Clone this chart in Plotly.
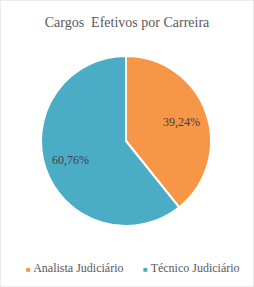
import math
import plotly.graph_objects as go

categories = ["Analista Judiciário", "Técnico Judiciário"]
values = [39.24, 60.76]
colors = ["#F79646", "#4BACC6"]

W, H = 254, 287
# pie geometry (pixels)
cx, cy, R = 126, 141, 85
fig = go.Figure(go.Pie(
    labels=categories,
    values=values,
    sort=False,
    direction="clockwise",
    rotation=0,
    marker=dict(colors=colors, line=dict(color="white", width=2)),
    textinfo="none",
    domain=dict(x=[(cx - R)/W, (cx + R)/W], y=[1 - (cy + R)/H, 1 - (cy - R)/H]),
    hoverinfo="label+percent",
    showlegend=False,
))

annotations = []
# data labels placed at 70% radius along each slice's mid-angle (computed from values)
total = sum(values)
start = 0.0
for v in values:
    frac = v / total
    mid = (start + frac / 2) * 2 * math.pi
    start += frac
    px = cx + 0.69 * R * math.sin(mid)
    py = cy - 0.69 * R * math.cos(mid)
    annotations.append(dict(
        text=f"{frac*100:.2f}%".replace(".", ","),
        x=px / W, y=1 - py / H, xref="paper", yref="paper",
        xanchor="center", yanchor="middle", showarrow=False,
        font=dict(family="Liberation Serif", size=12, color="#404040"),
    ))

legend_x = [75/W, 191/W]
for cat, col, lx in zip(categories, colors, legend_x):
    annotations.append(dict(
        text=f"<span style='font-size:8px;color:{col}'>■</span> {cat}",
        x=lx, y=1 - 268/H, xref="paper", yref="paper",
        xanchor="center", yanchor="middle", showarrow=False,
        font=dict(family="Liberation Serif", size=12, color="#595959"),
    ))

fig.update_layout(
    width=W, height=H,
    margin=dict(l=0, r=0, t=0, b=0),
    separators=",.",
    paper_bgcolor="white",
    title=dict(text="Cargos  Efetivos por Carreira", x=0.5, xanchor="center",
               y=1 - 22/H, yanchor="middle",
               font=dict(family="Liberation Serif", size=14, color="#595959")),
    annotations=annotations,
    shapes=[dict(type="rect", xref="paper", yref="paper", x0=0, y0=0, x1=1, y1=1,
                 line=dict(color="#D9D9D9", width=1))],
)
fig.write_html("out.html")
